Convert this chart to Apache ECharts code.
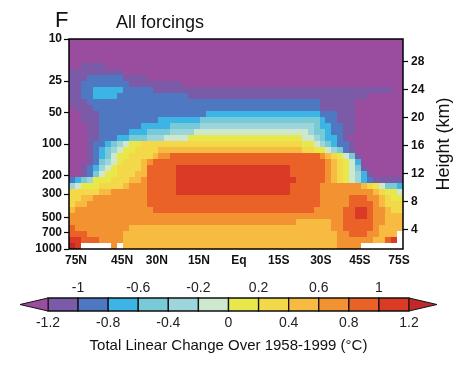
<!DOCTYPE html>
<html><head><meta charset="utf-8">
<script src="https://cdn.jsdelivr.net/npm/echarts@6/dist/echarts.min.js"></script>
<style>html,body{margin:0;padding:0;background:#fff}#c{width:474px;height:368px}</style>
</head><body><div id="c"></div>
<script>
// ---------------- DATA ----------------
// contour level codes (a = below -1.2 ... n = above 1.2) and the value each code stands for
const levelCodes  = ['a','b','c','d','e','f','g','h','i','j','k','l','m','n'];
const levelValues = [-1.3,-1.1,-0.9,-0.7,-0.5,-0.3,-0.1,0.1,0.3,0.5,0.7,0.9,1.1,1.3];
const levelColors = ['#9a4c9e','#7b5aa8','#4f78c2','#3cb4e6','#78cad6','#9cd6da','#cde8cc',
                     '#e8e84a','#f3d84a','#f8bb42','#f39230','#ea6228','#db3a26','#c0282a'];
const contourBounds = [-1.2,-1.0,-0.8,-0.6,-0.4,-0.2,0,0.2,0.4,0.6,0.8,1.0,1.2];
// temperature-change field: 35 rows (10 hPa top -> 1000 hPa bottom),
// 56 columns (75N -> 75S), run-length coded level codes; '.' = no data
const fieldRows = [
  "56a","56a","56a","56a",
  "2a 4b 50a",
  "9b 47a",
  "3b 6c 4b 43a",
  "2b 8c 9b 37a",
  "2b 2c 5d 5c 40b 2a",
  "2b 2c 4d 12c 30b 6a",
  "3b 39c 6b 8a",
  "1a 3b 38c 6b 8a",
  "2a 3b 18c 19d 3c 3b 8a",
  "2a 3b 10c 7d 20e 1d 2c 3b 8a",
  "3a 2b 7c 5d 5e 19f 1e 2d 2c 2b 8a",
  "3a 2b 5c 3d 4e 4f 19g 1f 2e 1d 2c 2b 8a",
  "3a 2b 3c 2d 3e 3f 4g 19h 2g 1f 1e 2d 1c 1b 9a",
  "3a 1b 2c 1d 1e 1f 1g 2h 27i 2h 1g 1f 1e 1d 2c 1b 8a",
  "3a 1b 1c 1d 1e 1f 1g 2h 4i 24j 2i 2h 1g 1f 1e 1c 1b 8a",
  "3a 1b 1c 1d 1e 1g 2h 4i 1j 2k 25l 1k 1j 1i 1h 1g 1e 1b 7a",
  "3a 1b 1c 1e 1f 1g 1h 3i 1j 1k 29l 1k 1j 1i 1h 1g 1d 7a",
  "2a 1b 1c 1d 1f 1g 1h 4i 1j 5l 19m 6l 1k 1j 1i 1h 1g 1e 1b 6a",
  "2a 1b 1c 1e 1g 2h 3i 2j 5l 19m 6l 1k 1j 1i 1h 1g 1f 1d 1b 5a",
  "1c 1d 1e 1f 3h 3i 2j 1k 5l 20m 5l 1k 1j 1i 1h 1g 1f 1d 1c 5b",
  "1f 1g 3h 4i 1j 3k 5l 19m 5l 7k 1j 1i 1h 1g 2e 1d",
  "5i 2j 6k 5l 19m 5l 9k 1j 1i 2h 1g",
  "2i 2j 9k 29l 5k 3l 2k 1j 1i 2h",
  "1i 2j 10k 29l 5k 4l 1k 1j 3i",
  "1j 13k 27l 5k 2l 2m 1l 2k 1j 2i",
  "46k 2l 2m 1l 2k 3j",
  "38k 6j 2k 5l 2k 3j",
  "1l 9k 34j 2k 5l 1k 4j",
  "3l 6k 36j 2k 3l 2k 3j 1.",
  "2m 3l 4k 36j 6k 2j 1l 1m 1.",
  "1n 1m 5. 1k 1. 36j 4k 7."
];
const latLabels      = ['75N','45N','30N','15N','Eq','15S','30S','45S','75S'];
const pressureTicks  = [10,25,50,100,200,300,500,700,1000];
const heightTicks    = [4,8,12,16,20,24,28];
const cbLowerLabels  = [-1.2,-0.8,-0.4,0,0.4,0.8,1.2];
const cbUpperLabels  = [-1,-0.6,-0.2,0.2,0.6,1];

// ---------------- LAYOUT ----------------
const NCOLS = 56;
const latTickFrac = [0.021,0.159,0.263,0.389,0.509,0.628,0.754,0.871,0.988];
const heightRange = [1.18, 31.25];
const arrowLen = 0.186;
const FONT = "'Liberation Sans', Arial, sans-serif";

function decodeRow(rle) {
  const out = [];
  rle.trim().split(/\s+/).forEach(tok => {
    const m = tok.match(/^(\d+)(.)$/);
    for (let k = 0; k < +m[1]; k++) out.push(m[2]);
  });
  if (out.length !== NCOLS) throw new Error('row length ' + out.length + ' in ' + rle);
  return out;
}
const grid = fieldRows.map(decodeRow);
const cells = [];
grid.forEach((row, r) => row.forEach((ch, c) => {
  if (ch === '.') return;
  cells.push([c, r, levelValues[levelCodes.indexOf(ch)]]);
}));
const colCats = grid[0].map((_, c) => c);
const rowCats = grid.map((_, r) => r);

const pieces = [{lt: contourBounds[0], color: levelColors[0]}];
for (let i = 0; i < contourBounds.length - 1; i++)
  pieces.push({gte: contourBounds[i], lt: contourBounds[i+1], color: levelColors[i+1]});
pieces.push({gte: contourBounds[contourBounds.length-1], color: levelColors[levelColors.length-1]});

const cbData = [];
for (let i = 0; i < contourBounds.length - 1; i++) cbData.push([contourBounds[i], contourBounds[i+1], i+1, 0]);
cbData.push([contourBounds[0], contourBounds[0] - arrowLen, 0, 1]);
cbData.push([contourBounds[contourBounds.length-1], contourBounds[contourBounds.length-1] + arrowLen, levelColors.length-1, 1]);

const tickLabelStyle = {fontFamily: FONT, fontWeight: 'bold', fontSize: 12, color: '#111'};
const chart = echarts.init(document.getElementById('c'), null, {renderer: 'canvas'});
chart.setOption({
  animation: false,
  backgroundColor: '#fff',
  title: [
    {text: 'F', left: 55, top: 10, padding: 0, textStyle: {fontFamily: FONT, fontSize: 22, fontWeight: 'normal', color: '#111'}},
    {text: 'All forcings', left: 116, top: 14, padding: 0, textStyle: {fontFamily: FONT, fontSize: 18, fontWeight: 'normal', color: '#111'}}
  ],
  grid: [
    {left: 69, right: 71, top: 39, bottom: 119, show: true, borderColor: '#000', borderWidth: 1.5, backgroundColor: 'transparent', z: 10},
    {left: 48, width: 361, top: 298, height: 13}
  ],
  xAxis: [
    {type: 'category', gridIndex: 0, data: colCats, show: false},
    {type: 'value', gridIndex: 0, min: 0, max: 1, position: 'bottom',
     axisLine: {show: false}, axisTick: {show: false}, splitLine: {show: false},
     axisLabel: Object.assign({customValues: latTickFrac, margin: 6,
       formatter: v => { const i = latTickFrac.findIndex(f => Math.abs(f - v) < 1e-6); return i >= 0 ? latLabels[i] : ''; }}, tickLabelStyle)},
    {type: 'value', gridIndex: 1, min: -1.2, max: 1.2, position: 'bottom',
     axisLine: {show: false}, axisTick: {show: false}, splitLine: {show: false},
     axisLabel: {customValues: cbLowerLabels, margin: 5, fontFamily: FONT, fontSize: 14, color: '#222', formatter: v => String(v)},
     name: 'Total Linear Change Over 1958-1999 (°C)', nameLocation: 'middle', nameGap: 27,
     nameTextStyle: {fontFamily: FONT, fontSize: 15, color: '#111'}},
    {type: 'value', gridIndex: 1, min: -1.2, max: 1.2, position: 'top',
     axisLine: {show: false}, axisTick: {show: false}, splitLine: {show: false},
     axisLabel: {customValues: cbUpperLabels, margin: 3, fontFamily: FONT, fontSize: 14, color: '#222', formatter: v => String(v)}}
  ],
  yAxis: [
    {type: 'category', gridIndex: 0, data: rowCats, inverse: true, show: false},
    {type: 'log', logBase: 10, gridIndex: 0, min: 10, max: 1000, inverse: true, position: 'left',
     axisLine: {show: false}, splitLine: {show: false}, minorTick: {show: false},
     axisTick: {show: true, customValues: pressureTicks, length: 5, lineStyle: {color: '#000', width: 1.2}},
     axisLabel: Object.assign({customValues: pressureTicks, margin: 7, formatter: v => String(Math.round(v))}, tickLabelStyle)},
    {type: 'value', gridIndex: 0, min: heightRange[0], max: heightRange[1], position: 'right',
     axisLine: {show: false}, splitLine: {show: false},
     axisTick: {show: true, customValues: heightTicks, length: 5, lineStyle: {color: '#000', width: 1.2}},
     axisLabel: Object.assign({customValues: heightTicks, margin: 8}, tickLabelStyle),
     name: 'Height (km)', nameLocation: 'middle', nameRotate: 90, nameGap: 32,
     nameTextStyle: {fontFamily: FONT, fontSize: 18, color: '#111'}},
    {type: 'value', gridIndex: 1, min: 0, max: 1, show: false}
  ],
  visualMap: {type: 'piecewise', show: false, seriesIndex: 0, dimension: 2, pieces: pieces},
  series: [
    {type: 'custom', xAxisIndex: 0, yAxisIndex: 0, data: cells, silent: true,
     encode: {x: 0, y: 1},
     renderItem: (params, api) => {
       const c = api.coord([api.value(0), api.value(1)]);
       const s = api.size([1, 1]);
       const w = Math.abs(s[0]) / 2, h = Math.abs(s[1]) / 2;
       const x0 = Math.round(c[0] - w), x1 = Math.round(c[0] + w);
       const y0 = Math.round(c[1] - h), y1 = Math.round(c[1] + h);
       return {type: 'rect', shape: {x: x0, y: y0, width: x1 - x0, height: y1 - y0},
               style: {fill: api.visual('color')}};
     }},
    {type: 'custom', xAxisIndex: 2, yAxisIndex: 3, data: cbData, silent: true,
     renderItem: (params, api) => {
       const p0 = api.coord([api.value(0), 0]);
       const p1 = api.coord([api.value(1), 1]);
       const fill = levelColors[api.value(2)];
       if (api.value(3) === 0) {
         return {type: 'rect', shape: {x: p0[0], y: p1[1], width: p1[0] - p0[0], height: p0[1] - p1[1]},
                 style: {fill: fill, stroke: '#111', lineWidth: 1.3}};
       }
       const midY = (p0[1] + p1[1]) / 2;
       return {type: 'polygon', shape: {points: [[p0[0], p1[1]], [p1[0], midY], [p0[0], p0[1]]]},
               style: {fill: fill, stroke: '#111', lineWidth: 1}};
     }}
  ]
});
</script>
</body></html>
